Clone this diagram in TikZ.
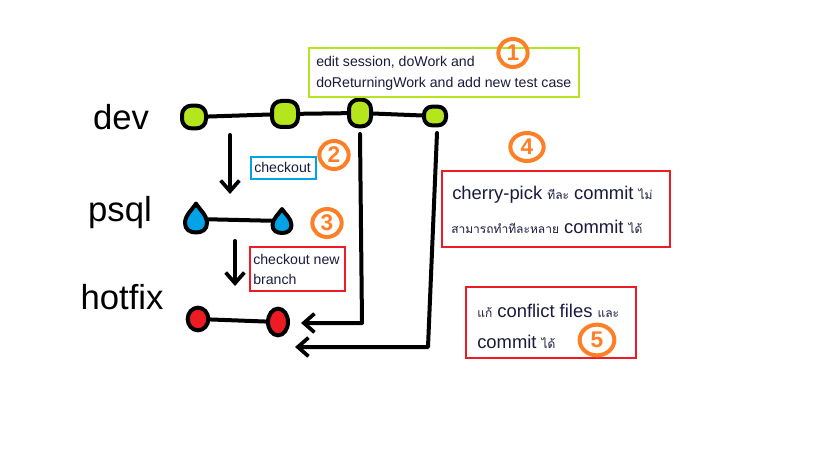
\documentclass[tikz,border=0pt]{standalone}
\usepackage{fontspec}
\setmainfont{Liberation Sans}
\newfontfamily\thaifont[Script=Thai]{Loma}
\usetikzlibrary{arrows.meta,shapes.geometric}
\definecolor{limeg}{HTML}{B5E61D}
\definecolor{skyb}{HTML}{00A2E8}
\definecolor{redc}{HTML}{ED1C24}
\definecolor{orng}{HTML}{FF7F27}
\definecolor{inkc}{HTML}{1A1A40}
\newcommand\thaitxt[1]{{\thaifont\fontsize{9}{10}\selectfont #1}}
\tikzset{
  commit/.style={draw=black, line width=3pt, inner sep=0pt},
  devc/.style={commit, fill=limeg, rectangle, rounded corners=7pt},
  hotc/.style={commit, fill=redc, ellipse},
  dropanchor/.style={ellipse, draw=none, inner sep=0pt},
  dropst/.style={draw=black, line width=3pt, fill=skyb, line join=round},
  link/.style={line width=3pt, line cap=round, line join=round},
  arr/.style={link, -{Straight Barb[length=8pt,width=14pt,line width=2.8pt]}},
  branchlabel/.style={font=\fontsize{26}{28}\selectfont, text=black, inner sep=0pt},
  note/.style={draw, line width=2.2pt, inner sep=0pt},
  notetext/.style={anchor=west, inner sep=0pt, text=inkc},
  small/.style={font=\fontsize{10.6}{12}\selectfont},
  big/.style={font=\fontsize{13.8}{15}\selectfont},
  num/.style={ellipse, draw=orng, line width=3pt, text=orng, minimum width=22pt, minimum height=21pt, inner sep=0pt, font=\bfseries\fontsize{17}{17}\selectfont},
}
\newcommand\dropshape[4]{%
  \begin{scope}[shift={(#1,#2)}, xscale=#3, yscale=#4]
    \draw[dropst] (0,-0.5) .. controls (0.15,-0.3) and (0.5,-0.1) .. (0.5,0.17)
      .. controls (0.5,0.4) and (0.28,0.5) .. (0,0.5)
      .. controls (-0.28,0.5) and (-0.5,0.4) .. (-0.5,0.17)
      .. controls (-0.5,-0.1) and (-0.15,-0.3) .. (0,-0.5) -- cycle;
  \end{scope}}
\begin{document}
\begin{tikzpicture}[x=0.75pt,y=-0.75pt]
\useasboundingbox (0,0) rectangle (819,460);
\fill[white] (0,0) rectangle (819,460);

% branch labels
\node[branchlabel] (ldev) at (121,117) {dev};
\node[branchlabel] (lpsql) at (120,213) {psql};
\node[branchlabel] (lhot) at (122,297) {hotfix};

% commits
\node[devc, minimum width=18pt, minimum height=17pt] (d1) at (194,117) {};
\node[devc, minimum width=19.5pt, minimum height=19.5pt] (d2) at (285,114) {};
\node[devc, minimum width=16.5pt, minimum height=20pt] (d3) at (360,113) {};
\node[devc, minimum width=16.5pt, minimum height=14pt, rounded corners=6pt] (d4) at (435,116) {};
\node[dropanchor, minimum width=15pt, minimum height=21pt] (p1) at (196,219) {};
\node[dropanchor, minimum width=13pt, minimum height=17pt] (p2) at (282,221) {};
\dropshape{196}{218}{22}{29}
\dropshape{282}{221}{19}{24}
\node[hotc, minimum width=15.5pt, minimum height=17pt] (h1) at (198,319) {};
\node[hotc, minimum width=15pt, minimum height=20pt] (h2) at (278,322) {};

\draw[link] (d1) -- (d2);
\draw[link] (d2) -- (d3);
\draw[link] (d3) -- (d4);
\draw[link] (p1) -- (p2);
\draw[link] (h1) -- (h2);

% checkout arrows
\coordinate (a1s) at (230,135);
\coordinate (a1e) at (230,194);
\coordinate (a2s) at (235,241);
\coordinate (a2e) at (235,286);
\draw[arr] (a1s) -- (a1e);
\draw[arr] (a2s) -- (a2e);

% cherry-pick connectors
\coordinate (c1a) at (360,134);
\coordinate (c1b) at (362,323);
\coordinate (c1e) at (301,323);
\draw[arr] (c1a) -- (c1b) -- (c1e);
\coordinate (c2a) at (437,133);
\coordinate (c2b) at (428,347);
\coordinate (c2e) at (295,347);
\draw[arr] (c2a) -- (c2b) -- (c2e);

% note 1
\draw[note, draw=limeg] (309,48) rectangle (579,97);
\node[notetext, small] (t1a) at (316,62) {edit session, doWork and};
\node[notetext, small] (t1b) at (316,84) {doReturningWork and add new test case};
\node[num] (n1) at (513,53) {1};

% note 2
\draw[note, draw=skyb] (251,157) rectangle (316,179);
\node[notetext, small] (t2) at (254,167) {checkout};
\node[num] (n2) at (334,155) {2};

% note 3
\draw[note, draw=redc] (250,247) rectangle (345,291);
\node[notetext, small] (t3a) at (253,259) {checkout new};
\node[notetext, small] (t3b) at (253,279) {branch};
\node[num] (n3) at (327,223) {3};

% note 4
\draw[note, draw=redc] (442,171) rectangle (670,247);
\node[notetext, big] (t4a) at (452,195) {cherry-pick \thaitxt{ทีละ} commit \thaitxt{ไม่}};
\node[notetext, big] (t4b) at (451,227) {\thaitxt{สามารถทำทีละหลาย} commit \thaitxt{ได้}};
\node[num, minimum width=25pt] (n4) at (527,147) {4};

% note 5
\draw[note, draw=redc] (466,287) rectangle (636,358);
\node[notetext, big] (t5a) at (477,311) {\thaitxt{แก้} conflict files \thaitxt{และ}};
\node[notetext, big] (t5b) at (477,342) {commit \thaitxt{ได้}};
\node[num, minimum width=26pt, minimum height=23pt] (n5) at (597,340) {5};
\end{tikzpicture}
\end{document}
